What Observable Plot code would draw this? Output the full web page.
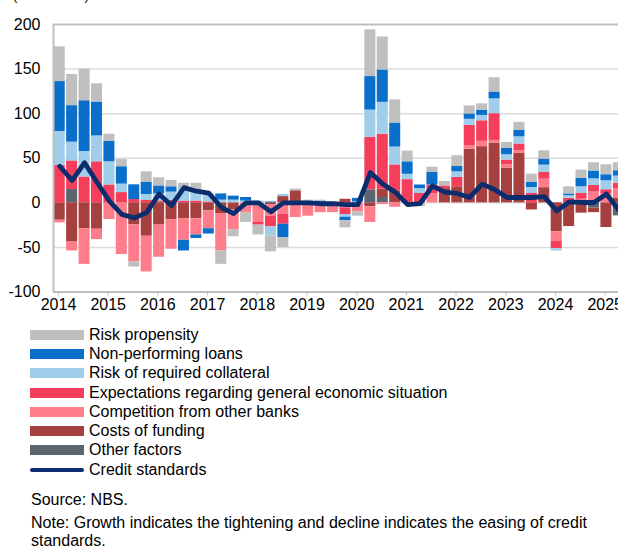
<!DOCTYPE html>
<html>
<head>
<meta charset="utf-8">
<script src="https://cdn.jsdelivr.net/npm/d3@7"></script>
<script src="https://cdn.jsdelivr.net/npm/@observablehq/plot@0.6"></script>
<style>
html,body{margin:0;padding:0;background:#fff;overflow:hidden;}
body{width:618px;height:547px;position:relative;font-family:"Liberation Sans",Arial,sans-serif;color:#000;}
#unit{position:absolute;left:13px;top:-12.5px;font-size:13px;line-height:15px;white-space:nowrap;}
#chart svg{display:block;}
.legend{margin-top:7px;}
.row{display:flex;align-items:center;height:19.3px;font-size:16px;white-space:nowrap;}
.sw{width:54px;height:10px;margin-left:30px;margin-right:5px;flex:none;}
.swl{width:54px;height:4px;border-radius:2px;margin-left:30px;margin-right:5px;flex:none;}
.src{margin-left:31px;margin-top:12px;font-size:16px;line-height:18px;}
.note{margin-left:31px;margin-top:5px;font-size:16px;line-height:18px;width:585px;}
</style>
</head>
<body>
<div id="unit">(net balance)</div>
<div id="chart"></div>
<div class="legend" id="legend"></div>
<div class="src">Source: NBS.</div>
<div class="note">Note: Growth indicates the tightening and decline indicates the easing of credit standards.</div>
<script>
const quarters = [
 "2014Q1","2014Q2","2014Q3","2014Q4","2015Q1","2015Q2","2015Q3","2015Q4",
 "2016Q1","2016Q2","2016Q3","2016Q4","2017Q1","2017Q2","2017Q3","2017Q4",
 "2018Q1","2018Q2","2018Q3","2018Q4","2019Q1","2019Q2","2019Q3","2019Q4",
 "2020Q1","2020Q2","2020Q3","2020Q4","2021Q1","2021Q2","2021Q3","2021Q4",
 "2022Q1","2022Q2","2022Q3","2022Q4","2023Q1","2023Q2","2023Q3","2023Q4",
 "2024Q1","2024Q2","2024Q3","2024Q4","2025Q1","2025Q2"];

const otherFactors = [0,15,0,0,0,0,0,0, 0,0,0,0,0,0,0,0, 0,0,0,0,0,0,0,0, 0,14.6,6,0,0,0,0,0, 0,0,0,0,0,0,0,0, 0,0,0,-6,0,-14.6];
const costsOfFunding = [-19.5,-44,-29,-29.6,0,0,-24.7,-37.5, -25,-19,-18,-18,-9,-12,-8,0, 0,-2,7,13.5,0,0,0,4, 0,-4.5,9.4,13.5,0,0,0,16, 18,60,63,67,38.6,55.4,-8,17, -32.6,-26.6,-11.6,-5,-27.7,5];
const competition = [-3,-10,-40,-11.6,-18.7,-58,-41.3,-40, -36,-33,-24,-18,-20,-42,-22,-11, -22,-13,-13,-16.5,-15,-11,-11,-5.6, -10,-17.5,-2,-5,0,0,10,0, 0,4,6,3,4,3,0,9.5, -10.8,0,4,12,9.7,11];
const expectations = [42,32,29,46,20,11.5,3.7,2.6, 2,3,2,2,1,0,0,0, -3,-12,-11,0,0,0,0,-7.5, 0,58.8,61.6,29,26,10.5,10,3, 10.5,23,23,30,5.3,7.6,10.5,7.5, -8,5,6.5,7.5,5,6];
const collateral = [38,21,28.5,29,26,9.5,0,6.8, 8,9,12,11,9,3,3,2, 2,-10,2.5,0,0,1,0,-3, 1,30.6,35.7,20,6,5.5,0,0, 6.3,6.7,6,16.6,6,8,6.7,8.3, -2.7,3,7.5,7.4,10,8];
const nonPerforming = [56,41,57,38,23,19.5,16.5,13.8, 9,6,-12,-4,-6,7,4.5,4, 0,1,-15,0,1,1,0,-4, 4,37.6,36.3,27,14,4,14,0, 6,6,6,7.7,7.5,7.6,6,6.7, 0,2,9.4,8.7,6.8,6];
const riskPropensity = [39,35,35.5,20.5,8,8,-6,11.6, 9,7,8,9,0,-15,-8,-11, -11,-18,-11,2,2,1,1,-8, -5,52.4,37,26,12,-4,6,5, 12,9,7,16,6.4,8.7,9,9.4, 0,8,9.4,9.3,11.2,9];
const creditStandards = [41,25,45,23,2,-13,-17,-11, 10,-3,17,13,11,-5,-12,0, 0,-10,0,0,0,-1,-1,-2, -2,34,21,12,-2,-1,19,12, 10.5,6,21,15,6,6,6,7, -9,1,0.4,0.4,10,-8];

const seriesNames = ["Other factors","Costs of funding","Competition from other banks","Expectations regarding general economic situation","Risk of required collateral","Non-performing loans","Risk propensity"];
const seriesColors = ["#5b6670","#a5403f","#ff7d8a","#f43e5c","#a0cdea","#0a6fcb","#bfbfbf"];
const seriesValues = [otherFactors,costsOfFunding,competition,expectations,collateral,nonPerforming,riskPropensity];
const yTicks = [-100,-50,0,50,100,150,200];
const gridValues = [-50,0,50,100,150];
const yearTicks = [2014,2015,2016,2017,2018,2019,2020,2021,2022,2023,2024,2025];

const qTime = q => +q.slice(0,4) + (+q.slice(5) - 1) / 4;
const rows = [];
seriesNames.forEach((name, k) => {
  seriesValues[k].forEach((v, i) => {
    const t = qTime(quarters[i]);
    rows.push({t, t2: t + 0.25, series: name, value: v});
  });
});
const csRows = creditStandards.map((v, i) => ({tc: qTime(quarters[i]) + 0.125, value: v}));

const chart = Plot.plot({
  width: 618, height: 318,
  marginLeft: 53, marginRight: 0, marginTop: 24, marginBottom: 26.5,
  style: {fontFamily: "Liberation Sans, Arial, sans-serif", fontSize: "16px", color: "#000", background: "#fff", overflow: "hidden"},
  x: {domain: [2014, 2014 + 565 / 49.7], axis: null},
  y: {domain: [-100, 200], axis: null},
  color: {domain: seriesNames, range: seriesColors},
  marks: [
    Plot.ruleY(gridValues, {stroke: "#dcdcdc", strokeWidth: 1.5}),
    Plot.rectY(rows, {x1: "t", x2: "t2", y: "value", fill: "series", order: seriesNames, insetLeft: 0.7, insetRight: 0.7, clip: true}),
    Plot.ruleY([200, -100], {stroke: "#bfbfbf", strokeWidth: 2}),
    Plot.ruleX([2014], {stroke: "#bfbfbf", strokeWidth: 2}),
    Plot.line(csRows, {x: "tc", y: "value", stroke: "#0b2d6e", strokeWidth: 4.8, strokeLinejoin: "round", clip: true}),
    Plot.axisY({ticks: yTicks, tickSize: 0, tickPadding: 13, tickFormat: d => String(d), fontSize: 16, anchor: "left", label: null}),
    Plot.axisX({ticks: yearTicks, tickSize: 4, tickPadding: 2.5, tickFormat: d => String(d), stroke: "#bfbfbf", fill: "#000", fontSize: 16, anchor: "bottom", label: null, dx: 5})
  ]
});
document.getElementById("chart").appendChild(chart);

const legend = document.getElementById("legend");
const legendItems = [...seriesNames.map((n, k) => ({name: n, color: seriesColors[k], line: false})).reverse(),
  {name: "Credit standards", color: "#0b2d6e", line: true}];
legendItems.forEach(it => {
  const r = document.createElement("div");
  r.className = "row";
  const s = document.createElement("div");
  s.className = it.line ? "swl" : "sw";
  s.style.background = it.color;
  const t = document.createElement("span");
  t.textContent = it.name;
  r.appendChild(s); r.appendChild(t);
  legend.appendChild(r);
});
</script>
</body>
</html>
